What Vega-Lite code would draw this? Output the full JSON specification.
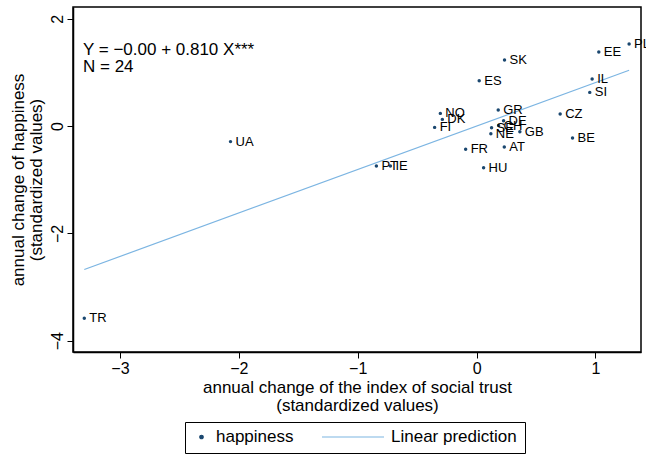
{
  "$schema": "https://vega.github.io/schema/vega-lite/v6.json",
  "width": 568,
  "height": 345,
  "autosize": {"type": "none"},
  "padding": {"left": 73, "top": 7, "right": 5, "bottom": 102},
  "background": "white",
  "config": {
    "font": "Liberation Sans",
    "view": {"stroke": "black", "strokeWidth": 1.5},
    "axis": {
      "domainColor": "black", "domainWidth": 1.5, "tickColor": "black", "tickSize": 6, "tickWidth": 1,
      "grid": false, "labelFont": "Liberation Sans", "labelFontSize": 16, "labelColor": "black",
      "titleFont": "Liberation Sans", "titleFontSize": 17, "titleFontWeight": "normal", "titleColor": "black"
    },
    "legend": {
      "orient": "none", "legendX": 112, "legendY": 415, "direction": "horizontal",
      "strokeColor": "black", "padding": 8, "labelFontSize": 17, "labelColor": "black",
      "labelFont": "Liberation Sans", "columnPadding": 27, "labelOffset": 6, "clipHeight": 14,
      "symbolStrokeWidth": 1.2, "symbolOpacity": 1
    }
  },
  "datasets": {
    "points": [
      {"country": "PL", "x": 1.283, "y": 1.527, "series": "happiness"},
      {"country": "EE", "x": 1.028, "y": 1.378, "series": "happiness"},
      {"country": "SK", "x": 0.235, "y": 1.229, "series": "happiness"},
      {"country": "ES", "x": 0.022, "y": 0.844, "series": "happiness"},
      {"country": "IL", "x": 0.972, "y": 0.875, "series": "happiness"},
      {"country": "SI", "x": 0.952, "y": 0.627, "series": "happiness"},
      {"country": "NO", "x": -0.305, "y": 0.236, "series": "happiness"},
      {"country": "DK", "x": -0.288, "y": 0.124, "series": "happiness"},
      {"country": "FI", "x": -0.353, "y": -0.025, "series": "happiness"},
      {"country": "GR", "x": 0.182, "y": 0.298, "series": "happiness"},
      {"country": "DE", "x": 0.227, "y": 0.099, "series": "happiness"},
      {"country": "SE", "x": 0.126, "y": -0.031, "series": "happiness"},
      {"country": "CH", "x": 0.185, "y": 0.01, "series": "happiness"},
      {"country": "GB", "x": 0.364, "y": -0.106, "series": "happiness"},
      {"country": "NE", "x": 0.12, "y": -0.143, "series": "happiness"},
      {"country": "CZ", "x": 0.703, "y": 0.223, "series": "happiness"},
      {"country": "BE", "x": 0.807, "y": -0.223, "series": "happiness"},
      {"country": "FR", "x": -0.092, "y": -0.434, "series": "happiness"},
      {"country": "AT", "x": 0.233, "y": -0.391, "series": "happiness"},
      {"country": "HU", "x": 0.059, "y": -0.776, "series": "happiness"},
      {"country": "PT", "x": -0.843, "y": -0.745, "series": "happiness"},
      {"country": "IE", "x": -0.725, "y": -0.745, "series": "happiness"},
      {"country": "UA", "x": -2.07, "y": -0.29, "series": "happiness"},
      {"country": "TR", "x": -3.3, "y": -3.58, "series": "happiness"}
    ],
    "fit": [
      {"x": -3.3, "y": -2.673, "series": "Linear prediction"},
      {"x": 1.283, "y": 1.039, "series": "Linear prediction"}
    ],
    "note": [
      {"x": -3.311, "y": 1.42, "label": "Y = −0.00 + 0.810 X***"},
      {"x": -3.311, "y": 1.1, "label": "N = 24"}
    ]
  },
  "encoding": {
    "x": {
      "field": "x", "type": "quantitative",
      "scale": {"domain": [-3.395, 1.383], "nice": false, "zero": false},
      "axis": {"values": [-3, -2, -1, 0, 1], "labelPadding": 2, "titlePadding": 3, "titleLineHeight": 18,
               "title": ["annual change of the index of social trust", "(standardized values)"]}
    },
    "y": {
      "field": "y", "type": "quantitative",
      "scale": {"domain": [-4.21, 2.218], "nice": false, "zero": false},
      "axis": {"values": [-4, -2, 0, 2], "labelAngle": -90, "labelAlign": "center", "labelBaseline": "bottom",
               "labelPadding": 2, "titlePadding": 4, "titleLineHeight": 18,
               "title": ["annual change of happiness", "(standardized values)"]}
    }
  },
  "layer": [
    {
      "data": {"name": "fit"},
      "mark": {"type": "line", "strokeWidth": 1.2},
      "encoding": {
        "color": {
          "field": "series", "type": "nominal",
          "scale": {"domain": ["happiness", "Linear prediction"], "range": ["#1a476f", "#7cb5e2"]},
          "legend": {"title": null, "encode": {"symbols": {"update": {"stroke": {"scale": "color", "field": "value"}}}}}
        }
      }
    },
    {
      "data": {"name": "points"},
      "mark": {"type": "point", "filled": true, "opacity": 1},
      "encoding": {
        "color": {
          "field": "series", "type": "nominal",
          "scale": {"domain": ["happiness", "Linear prediction"], "range": ["#1a476f", "#7cb5e2"]},
          "legend": {"title": null, "encode": {"symbols": {"update": {"stroke": {"scale": "color", "field": "value"}}}}}
        },
        "shape": {
          "field": "series", "type": "nominal",
          "scale": {"domain": ["happiness", "Linear prediction"], "range": ["circle", "stroke"]},
          "legend": {"title": null, "encode": {"symbols": {"update": {"stroke": {"scale": "color", "field": "value"}}}}}
        },
        "size": {
          "field": "series", "type": "nominal",
          "scale": {"domain": ["happiness", "Linear prediction"], "range": [12, 3844]},
          "legend": {"title": null, "encode": {"symbols": {"update": {"stroke": {"scale": "color", "field": "value"}}}}}
        }
      }
    },
    {
      "data": {"name": "points"},
      "mark": {"type": "text", "align": "left", "baseline": "middle", "dx": 5, "fontSize": 13, "color": "black"},
      "encoding": {"text": {"field": "country"}}
    },
    {
      "data": {"name": "note"},
      "mark": {"type": "text", "align": "left", "baseline": "middle", "fontSize": 17, "color": "black"},
      "encoding": {"text": {"field": "label"}}
    }
  ]
}
